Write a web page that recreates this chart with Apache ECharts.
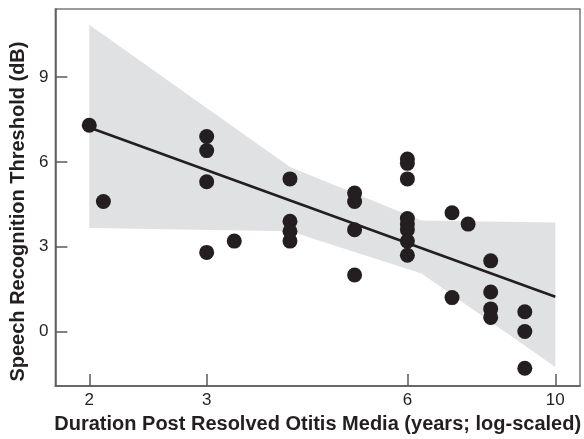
<!DOCTYPE html>
<html>
<head>
<meta charset="utf-8">
<script src="https://cdn.jsdelivr.net/npm/echarts@6/dist/echarts.min.js"></script>
<style>html,body{margin:0;padding:0;background:#fff;}#c{width:584px;height:439px;}</style>
</head>
<body>
<div id="c"></div>
<script>
// Observations: duration (years) and speech recognition threshold (dB)
const pointYears = [2, 2.1, 3, 3, 3, 3, 3.3, 4, 4, 4, 4, 5, 5, 5, 5, 6, 6, 6, 6, 6, 6, 6, 6, 7, 7, 7.4, 8, 8, 8, 8, 9, 9, 9];
const pointSRT   = [7.3, 4.6, 6.9, 6.4, 5.3, 2.8, 3.2, 5.4, 3.9, 3.55, 3.2, 4.9, 4.6, 3.6, 2.0, 6.1, 5.95, 5.4, 4.0, 3.8, 3.6, 3.2, 2.7, 4.2, 1.2, 3.8, 2.5, 1.4, 0.8, 0.5, 0.7, 0.0, -1.3];
// Regression fit (straight on log-x scale)
const fitYears = [2, 10];
const fitSRT   = [7.22, 1.23];
// Confidence band
const bandYears = [2, 4, 6.3, 10];
const bandUpper = [10.85, 5.82, 3.93, 3.86];
const bandLower = [3.66, 3.55, 2.05, -1.25];
// Axis ticks
const xTickYears = [2, 3, 6, 10];
const yTicks = [0, 3, 6, 9];
const xRange = [1.779, 10.89];
const yRange = [-1.93, 11.41];

const L = v => Math.log10(v);
const ink = '#231f20';
const axisCol = '#5a5a5a';
const font = 'Liberation Sans, Arial, Helvetica, sans-serif';

const bandPoly = [];
bandYears.forEach((x, i) => bandPoly.push([L(x), bandUpper[i]]));
for (let i = bandYears.length - 1; i >= 0; i--) bandPoly.push([L(bandYears[i]), bandLower[i]]);

const chart = echarts.init(document.getElementById('c'), null, {renderer: 'canvas'});
chart.setOption({
  animation: false,
  grid: {left: 53, right: 4, top: 9, bottom: 50, show: true, borderColor: '#7a7a7a', borderWidth: 1.5},
  xAxis: {
    type: 'value', min: L(xRange[0]), max: L(xRange[1]),
    name: 'Duration Post Resolved Otitis Media (years; log-scaled)',
    nameLocation: 'middle', nameGap: 27,
    nameTextStyle: {fontFamily: font, fontWeight: 'bold', fontSize: 20, color: ink},
    axisLine: {show: true, onZero: false, lineStyle: {color: axisCol, width: 1.5}},
    axisTick: {show: true, inside: true, length: 12, lineStyle: {color: axisCol, width: 1.5}, customValues: xTickYears.map(L)},
    axisLabel: {show: true, margin: 6, fontFamily: font, fontSize: 17, color: ink, customValues: xTickYears.map(L),
      formatter: v => String(Math.round(Math.pow(10, v)))},
    splitLine: {show: false}
  },
  yAxis: {
    type: 'value', min: yRange[0], max: yRange[1],
    name: 'Speech Recognition Threshold (dB)',
    nameLocation: 'middle', nameGap: 26,
    nameTextStyle: {fontFamily: font, fontWeight: 'bold', fontSize: 20, color: ink, padding: [0, 28, 0, 0]},
    axisLine: {show: true, onZero: false, lineStyle: {color: axisCol, width: 1.5}},
    axisTick: {show: true, inside: true, length: 12, lineStyle: {color: axisCol, width: 1.5}, customValues: yTicks},
    axisLabel: {show: true, margin: 7, fontFamily: font, fontSize: 17, color: ink, customValues: yTicks},
    splitLine: {show: false}
  },
  series: [
    {
      type: 'custom', name: 'band', z: 1, silent: true,
      data: bandPoly,
      renderItem: function (params, api) {
        if (params.dataIndex !== 0) return null;
        return {type: 'polygon', shape: {points: bandPoly.map(p => api.coord(p))}, style: {fill: '#e0e1e3'}};
      }
    },
    {
      type: 'line', name: 'fit', z: 3, symbol: 'none',
      data: fitYears.map((x, i) => [L(x), fitSRT[i]]),
      lineStyle: {color: ink, width: 2.6}
    },
    {
      type: 'scatter', name: 'obs', z: 4, symbolSize: 15,
      data: pointYears.map((x, i) => [L(x), pointSRT[i]]),
      itemStyle: {color: ink, opacity: 1}
    }
  ]
});
</script>
</body>
</html>
